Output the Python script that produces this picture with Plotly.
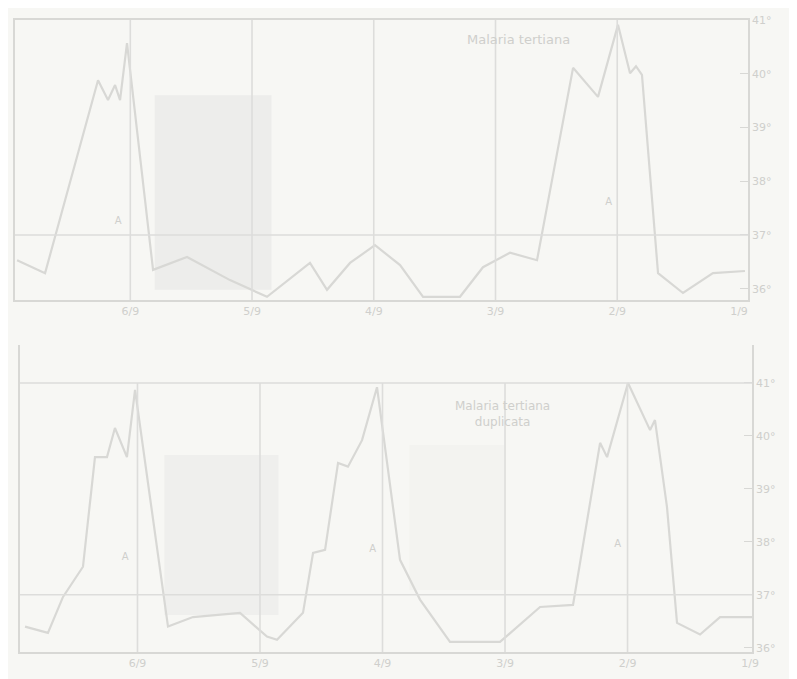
import plotly.graph_objects as go

# ---- data (time runs right-to-left in the picture) ----
temp_ticks = [36, 37, 38, 39, 40, 41]
temp_labels = ["36°", "37°", "38°", "39°", "40°", "41°"]
day_ticks = [0, 1, 2, 3, 4, 5]
day_labels = ["1/9", "2/9", "3/9", "4/9", "5/9", "6/9"]
grid_days = [1, 2, 3, 4, 5]
normal_temp = 37
top_line_temp = 41

top_t = [5.930, 5.700, 5.265, 5.183, 5.125, 5.084, 5.027, 4.813, 4.534, 4.181,
         3.877, 3.524, 3.384, 3.195, 2.990, 2.784, 2.595, 2.292, 2.103, 1.881,
         1.659, 1.363, 1.158, 0.994, 0.895, 0.846, 0.797, 0.665, 0.460, 0.214, -0.049]
top_temp = [36.53, 36.29, 39.88, 39.51, 39.79, 39.51, 40.57, 36.35, 36.59, 36.16,
            35.85, 36.48, 35.98, 36.48, 36.81, 36.44, 35.85, 35.85, 36.40, 36.67,
            36.53, 40.11, 39.57, 40.91, 40.01, 40.14, 39.98, 36.29, 35.92, 36.29, 36.33]

bot_t = [5.918, 5.731, 5.608, 5.445, 5.347, 5.249, 5.184, 5.086, 5.020, 4.963,
         4.751, 4.547, 4.163, 3.943, 3.861, 3.649, 3.567, 3.469, 3.363, 3.282,
         3.167, 3.045, 2.955, 2.857, 2.694, 2.449, 2.041, 1.714, 1.445, 1.224,
         1.167, 0.996, 0.816, 0.776, 0.678, 0.596, 0.408, 0.245, -0.016]
bot_temp = [36.40, 36.28, 36.96, 37.53, 39.60, 39.60, 40.15, 39.60, 40.87, 39.92,
            36.40, 36.58, 36.66, 36.21, 36.15, 36.66, 37.79, 37.85, 39.49, 39.42,
            39.92, 40.92, 39.36, 37.66, 36.91, 36.11, 36.11, 36.77, 36.81, 39.87,
            39.60, 41.00, 40.11, 40.30, 38.66, 36.47, 36.25, 36.58, 36.58]

# shaded (stippled) periods: [t_start, t_end, temp_low, temp_high]
top_shade = [[4.80, 3.84, 35.98, 39.60]]
bot_shade = [[4.78, 3.85, 36.62, 39.64], [2.78, 2.00, 37.09, 39.83]]
bot_shade_opacity = [0.85, 0.45]

# small pencil marks
top_marks_t = [5.10, 1.07]
top_marks_temp = [37.25, 37.60]
bot_marks_t = [5.10, 3.08, 1.08]
bot_marks_temp = [37.70, 37.85, 37.95]

top_title = "Malaria tertiana"
bot_title = "Malaria tertiana<br>duplicata"

# ---- styles ----
BG = "#f7f7f4"
LINE = "#d8d8d5"
GRID = "#dddddb"
TXT = "#cfcfcc"
SHADE = "#ededeb"
FONT = "DejaVu Sans"

fig = go.Figure()
fig.add_trace(go.Scatter(x=top_t, y=top_temp, mode="lines",
                         line=dict(color=LINE, width=2.2), xaxis="x", yaxis="y",
                         showlegend=False, hoverinfo="skip"))
fig.add_trace(go.Scatter(x=bot_t, y=bot_temp, mode="lines",
                         line=dict(color=LINE, width=2.2), xaxis="x2", yaxis="y2",
                         showlegend=False, hoverinfo="skip"))
fig.add_trace(go.Scatter(x=top_marks_t, y=top_marks_temp, mode="text", text=["A"] * len(top_marks_t),
                         textfont=dict(color=TXT, size=10, family=FONT), xaxis="x", yaxis="y",
                         showlegend=False, hoverinfo="skip"))
fig.add_trace(go.Scatter(x=bot_marks_t, y=bot_marks_temp, mode="text", text=["A"] * len(bot_marks_t),
                         textfont=dict(color=TXT, size=10, family=FONT), xaxis="x2", yaxis="y2",
                         showlegend=False, hoverinfo="skip"))

shapes = []
for (x0, x1, y0, y1) in top_shade:
    shapes.append(dict(type="rect", xref="x", yref="y", x0=x0, x1=x1, y0=y0, y1=y1,
                       fillcolor=SHADE, line=dict(width=0), layer="below"))
for (x0, x1, y0, y1), op in zip(bot_shade, bot_shade_opacity):
    shapes.append(dict(type="rect", xref="x2", yref="y2", x0=x0, x1=x1, y0=y0, y1=y1,
                       fillcolor=SHADE, line=dict(width=0), layer="below", opacity=op))
for d in grid_days:
    shapes.append(dict(type="line", xref="x", yref="y domain", x0=d, x1=d, y0=0, y1=1,
                       line=dict(color=GRID, width=1.6)))
    shapes.append(dict(type="line", xref="x2", yref="y2", x0=d, x1=d, y0=35.92, y1=top_line_temp,
                       line=dict(color=GRID, width=1.6)))
shapes.append(dict(type="line", xref="x domain", yref="y", x0=0, x1=1, y0=normal_temp, y1=normal_temp,
                   line=dict(color=GRID, width=1.6)))
shapes.append(dict(type="line", xref="x2 domain", yref="y2", x0=0, x1=1, y0=normal_temp, y1=normal_temp,
                   line=dict(color=GRID, width=1.6)))
shapes.append(dict(type="line", xref="x2 domain", yref="y2", x0=0, x1=1, y0=top_line_temp, y1=top_line_temp,
                   line=dict(color=GRID, width=1.6)))

# the page body has an 8px margin, so the figure is drawn 8px in from the window corner
OFF = 8
W, H = 797 - OFF, 679 - OFF
ml, mr, mt, mb = 15 - OFF, 45, 15 - OFF, 20
pw, ph = W - ml - mr, H - mt - mb


def xd(p0, p1):
    p0, p1 = p0 - OFF, p1 - OFF
    return [(p0 - ml) / pw, (p1 - ml) / pw]


def yd(ptop, pbot):
    ptop, pbot = ptop - OFF, pbot - OFF
    return [(H - mb - pbot) / ph, (H - mb - ptop) / ph]


axis_common = dict(showgrid=False, zeroline=False, linecolor=LINE, linewidth=1.6,
                   automargin=False,
                   tickfont=dict(color=TXT, size=11, family=FONT))

fig.update_layout(
    width=W, height=H,
    margin=dict(l=ml, r=mr, t=mt, b=mb, autoexpand=False),
    paper_bgcolor=BG, plot_bgcolor=BG,
    shapes=shapes,
    xaxis=dict(domain=xd(15, 748), range=[5.947, -0.074], anchor="y",
               tickvals=day_ticks, ticktext=day_labels, showline=True, mirror=True,
               ticks="", **axis_common),
    yaxis=dict(domain=yd(20, 300), range=[35.79, 41.0], anchor="x", side="right",
               tickvals=temp_ticks, ticktext=temp_labels, showline=True, mirror=True,
               ticks="inside", ticklen=8, tickcolor=LINE, **axis_common),
    xaxis2=dict(domain=xd(20, 752), range=[5.959, -0.016], anchor="y2",
                tickvals=day_ticks, ticktext=day_labels, showline=True, mirror=False,
                ticks="", **axis_common),
    yaxis2=dict(domain=yd(345, 652), range=[35.92, 41.717], anchor="x2", side="right",
                tickvals=temp_ticks, ticktext=temp_labels, showline=True, mirror=True,
                ticks="inside", ticklen=8, tickcolor=LINE, **axis_common),
    annotations=[
        dict(x=1.815, y=40.63, xref="x", yref="y", text=top_title, showarrow=False,
             font=dict(color=TXT, size=13, family=FONT)),
        dict(x=2.02, y=40.42, xref="x2", yref="y2", text=bot_title, showarrow=False,
             font=dict(color=TXT, size=12, family=FONT)),
    ],
)

fig.write_html("out.html")
